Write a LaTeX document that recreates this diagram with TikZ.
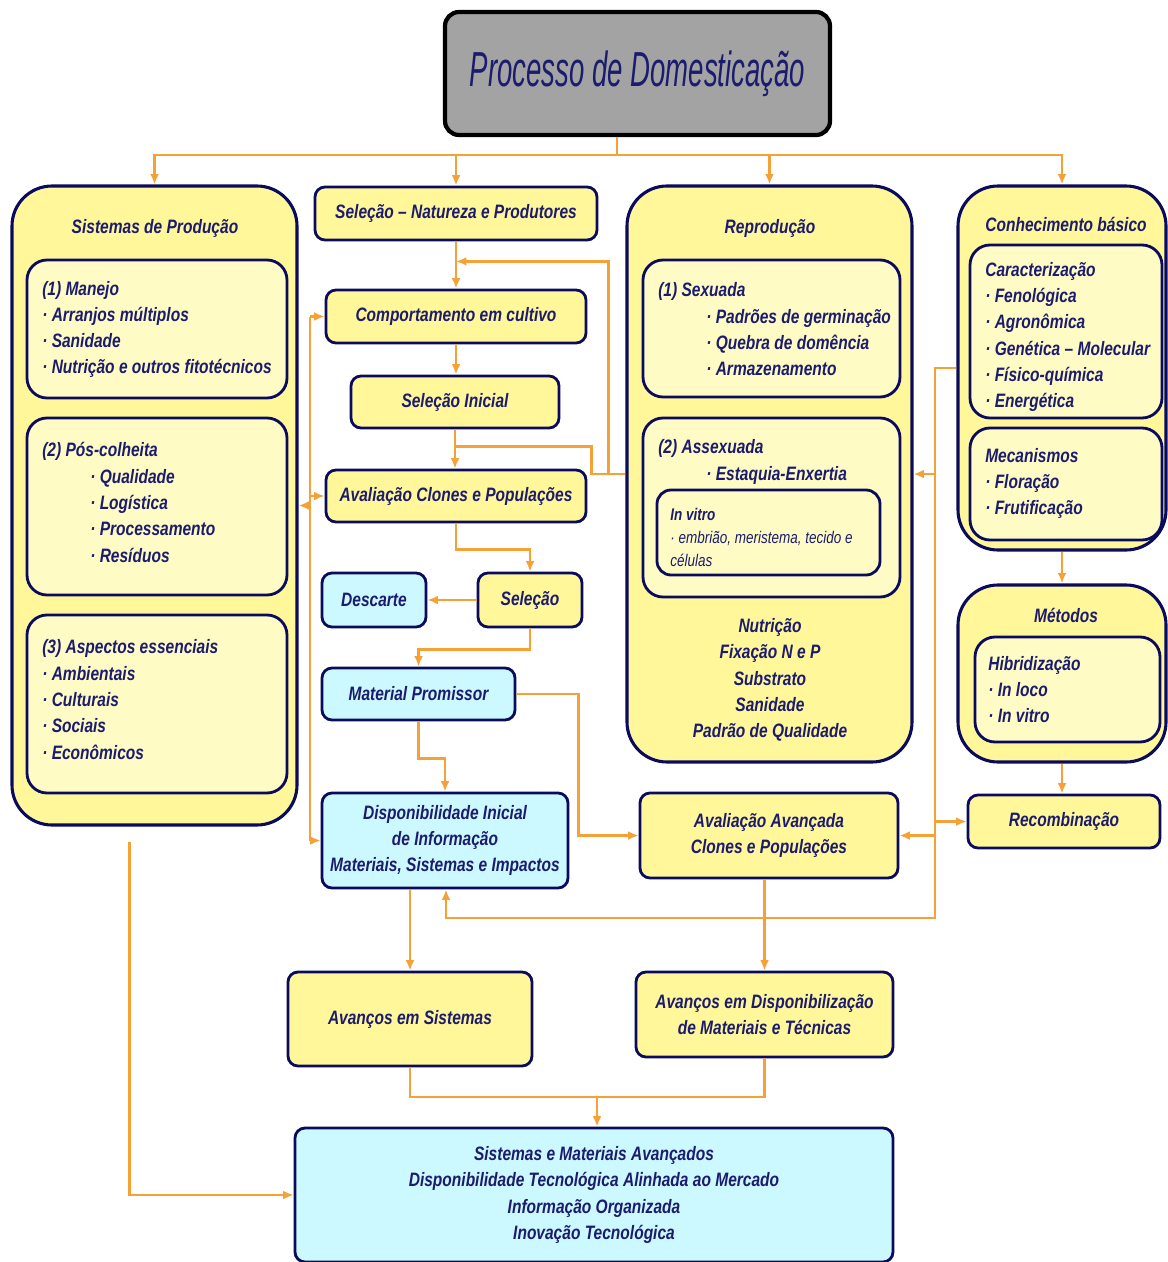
\documentclass[tikz,border=0pt]{standalone}
\usepackage{fontspec}
\setmainfont{Liberation Sans}[FakeStretch=0.8]
\newfontfamily\titlefont{Liberation Sans}[FakeStretch=0.56]
\usepackage{xcolor}
\definecolor{DomNavy}{HTML}{0B0B5E}
\definecolor{DomInk}{HTML}{1C1C6E}
\definecolor{DomYellow}{HTML}{FFF79A}
\definecolor{DomPale}{HTML}{FFFBC4}
\definecolor{DomCyan}{HTML}{CCF8FF}
\definecolor{DomOrange}{HTML}{F5A135}
\definecolor{DomGray}{HTML}{A3A3A3}
\usetikzlibrary{arrows.meta,calc}
\newcommand{\itemind}{\hspace*{1.2cm}}

\begin{document}
\begin{tikzpicture}[
  x=0.025cm,y=-0.025cm,
  txt/.style={font=\fontsize{13.8}{18.7}\selectfont\bfseries\itshape,text=DomInk},
  sz/.style 2 args={minimum width=#1*0.025cm,minimum height=#2*0.025cm},
  box/.style={txt,draw=DomNavy,line width=2pt,rounded corners=0.25cm,fill=DomYellow,align=center,inner sep=0pt},
  cbox/.style={box,fill=DomCyan},
  group/.style={draw=DomNavy,line width=2.2pt,rounded corners=1cm,fill=DomYellow,inner sep=0pt},
  sub/.style={draw=DomNavy,line width=2pt,rounded corners=0.5cm,fill=DomPale,inner sep=0pt},
  subtxt/.style={txt,anchor=west,align=left,inner sep=0pt},
  gtitle/.style={txt,align=center,inner sep=0pt},
  link/.style={draw=DomOrange,line width=2pt},
  arr/.style={link,-{Latex[length=2.6mm,width=2.2mm]}}
]
  \useasboundingbox (0,0) rectangle (1168,1262);
  \node[draw=black,line width=3pt,rounded corners=0.35cm,fill=DomGray,sz={385}{123},
        font=\titlefont\itshape\fontsize{35}{40}\selectfont,text=DomInk] (title) at (637.5,73.5) {Processo de Domesticação};

  % big groups
  \node[group,sz={285}{639}] (sist) at (154.5,505.5) {};
  \node[group,sz={285}{576}] (repro) at (769.5,474) {};
  \node[group,sz={208}{364}] (conh) at (1062,368) {};
  \node[group,sz={208}{177}] (metod) at (1062,673.5) {};
  \node[gtitle] (sisttit) at (155,228) {Sistemas de Produção};
  \node[gtitle] (reprotit) at (770,228) {Reprodução};
  \node[gtitle] (conhtit) at (1066,224) {Conhecimento básico};
  \node[gtitle] (metodtit) at (1066,615) {Métodos};

  % inner boxes and their lists
  \node[sub,sz={260}{138}] (manejo) at (157,329) {};
  \node[sub,sz={260}{177}] (posc) at (157,506.5) {};
  \node[sub,sz={260}{178}] (aspec) at (157,704) {};
  \node[subtxt] (manejotxt) at (42,329.5) {(1) Manejo\\· Arranjos múltiplos\\· Sanidade\\· Nutrição e outros fitotécnicos};
  \node[subtxt] (posctxt) at (42,502.5) {(2) Pós-colheita\\\itemind· Qualidade\\\itemind· Logística\\\itemind· Processamento\\\itemind· Resíduos};
  \node[subtxt] (aspectxt) at (42,699.5) {(3) Aspectos essenciais\\· Ambientais\\· Culturais\\· Sociais\\· Econômicos};

  \node[sub,sz={257}{137}] (sexu) at (771.5,328.5) {};
  \node[sub,sz={257}{179}] (assex) at (771.5,507.5) {};
  \node[sub,sz={223}{85},rounded corners=0.35cm] (invitro) at (768.5,532.5) {};
  \node[subtxt] (sexutxt) at (658,329.5) {(1) Sexuada\\\itemind· Padrões de germinação\\\itemind· Quebra de domência\\\itemind· Armazenamento};
  \node[subtxt] (assextxt) at (658,462) {(2) Assexuada\\\itemind· Estaquia-Enxertia};
  \node[subtxt,font=\fontsize{12}{16.5}\selectfont\itshape] (invitrotxt) at (670,537.5) {\textbf{In vitro}\\· embrião, meristema, tecido e\\células};
  \node[gtitle] (reprobot) at (770,680) {Nutrição\\Fixação N e P\\Substrato\\Sanidade\\Padrão de Qualidade};

  \node[sub,sz={192}{173}] (carac) at (1066,331.5) {};
  \node[sub,sz={192}{112}] (mecan) at (1066,484) {};
  \node[sub,sz={185}{105}] (hibr) at (1067.5,689.5) {};
  \node[subtxt] (caractxt) at (985,337) {Caracterização\\· Fenológica\\· Agronômica\\· Genética – Molecular\\· Físico-química\\· Energética};
  \node[subtxt] (mecantxt) at (985,483.5) {Mecanismos\\· Floração\\· Frutificação};
  \node[subtxt] (hibrtxt) at (988,689.5) {Hibridização\\· In loco\\· In vitro};

  % flow boxes
  \node[box,sz={282}{53}] (selnat) at (456,213.5) {Seleção – Natureza e Produtores};
  \node[box,sz={260}{53}] (comp) at (456,316.5) {Comportamento em cultivo};
  \node[box,sz={208}{52}] (selini) at (455,402) {Seleção Inicial};
  \node[box,sz={260}{52}] (avalc) at (456,496) {Avaliação Clones e Populações};
  \node[cbox,sz={104}{54}] (desc) at (374,600) {Descarte};
  \node[box,sz={104}{54}] (selec) at (530,600) {Seleção};
  \node[cbox,sz={193}{52}] (matp) at (418.5,694) {Material Promissor};
  \node[cbox,sz={246}{95}] (disp) at (445,840.5) {Disponibilidade Inicial\\de Informação\\Materiais, Sistemas e Impactos};
  \node[box,sz={258}{85}] (avava) at (769,835.5) {Avaliação Avançada\\Clones e Populações};
  \node[box,sz={192}{53}] (recomb) at (1064,821.5) {Recombinação};
  \node[box,sz={244}{94}] (avsis) at (410,1019) {Avanços em Sistemas};
  \node[box,sz={257}{85}] (avdisp) at (764.5,1014.5) {Avanços em Disponibilização\\de Materiais e Técnicas};
  \node[cbox,sz={598}{134}] (final) at (594,1195) {Sistemas e Materiais Avançados\\Disponibilidade Tecnológica Alinhada ao Mercado\\Informação Organizada\\Inovação Tecnológica};

  % connectors
  \coordinate (hub) at (617,155);
  \coordinate (lbus) at (310,0);
  \coordinate (rbus) at (935,0);
  \coordinate (rlow) at (935,918);
  \coordinate (join) at (597,1097);
  \draw[link] (title.south -| hub) -- (hub);
  \foreach \n in {sist,selnat,repro,conh}{\draw[arr] (hub) -| (\n.north);}
  \draw[arr] (selnat) -- (comp);
  \draw[arr] (comp.south) -- (comp.south |- selini.north);
  \draw[arr] (selini.south) -- (selini.south |- avalc.north);
  \draw[link] ($(selini.south)+(0,17)$) -| ($(repro.west)+(-34,0)$) -- (repro.west);
  \draw[arr] ($(repro.west)+(-17,0)$) |- ($(selnat.south)+(0,20)$);
  \draw[arr] (avalc.south) -- ++(0,26) -| (selec.north);
  \draw[arr] (selec) -- (desc);
  \draw[arr] (selec.south) -- ++(0,21) -| (matp.north);
  \draw[arr] (matp.south) -- ++(0,37) -| (disp.north);
  \draw[arr] (matp.east) -- ++(62,0) |- (avava.west);
  \draw[link] (lbus |- comp.west) -- (lbus |- disp.west);
  \foreach \n in {comp,avalc,disp}{\draw[arr] (lbus |- \n.west) -- (\n.west);}
  \draw[arr] (lbus |- sist.east) -- (sist.east);
  \draw[arr] (conh.west) -| (rlow) -| ($(disp.south)+(1,0)$);
  \foreach \n in {repro,avava}{\draw[arr] (rbus |- \n.east) -- (\n.east);}
  \draw[arr] (rbus |- recomb.west) -- (recomb.west);
  \draw[arr] (disp.south -| avsis.north) -- (avsis.north);
  \draw[arr] (avava.south -| avdisp.north) -- (avdisp.north);
  \draw[link] (avsis.south) |- (join) -| (avdisp.south);
  \draw[arr] (join) -- (join |- final.north);
  \draw[arr] ($(sist.south)+(-25,15)$) |- (final.west);
  \draw[arr] (conh) -- (metod);
  \draw[arr] (metod.south) -- (metod.south |- recomb.north);
\end{tikzpicture}
\end{document}
